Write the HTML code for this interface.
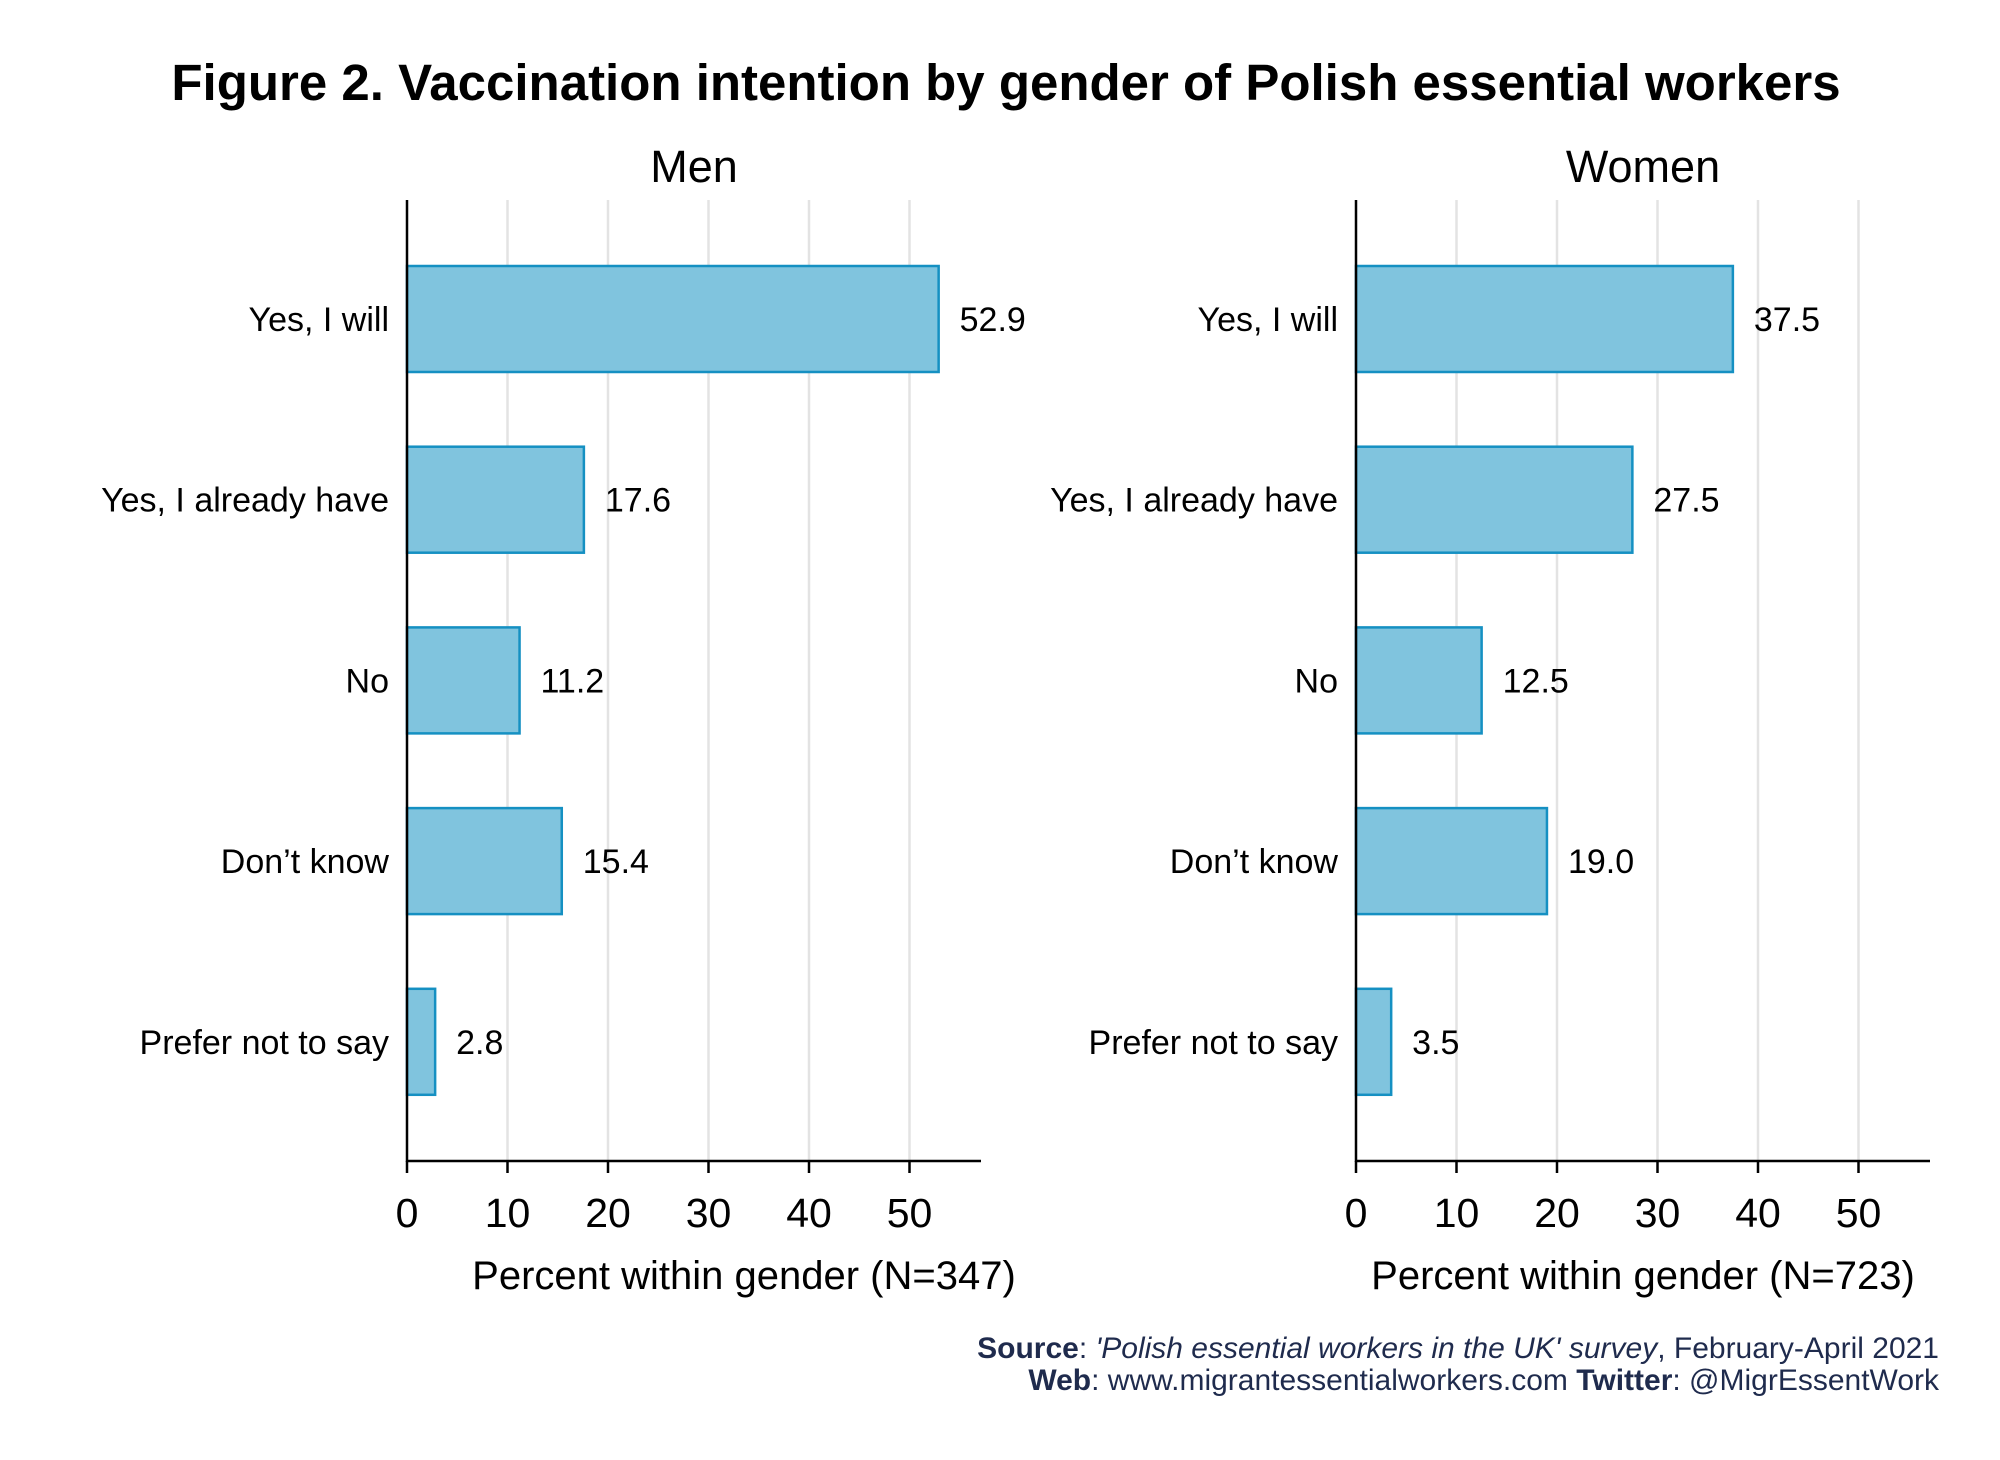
<!DOCTYPE html>
<html><head><meta charset="utf-8"><style>
html,body{margin:0;padding:0;background:#fff}
svg text{font-family:"Liberation Sans",Arial,sans-serif}
</style></head><body>
<svg id="chart" width="2000" height="1455" viewBox="0 0 2000 1455" xmlns="http://www.w3.org/2000/svg">
<rect width="2000" height="1455" fill="#fff"/>
<text x="1006" y="100" text-anchor="middle" font-size="51" font-weight="bold" fill="#000">Figure 2. Vaccination intention by gender of Polish essential workers</text>
<g id="panels"></g>
<g fill="#1f2b4d" font-size="30" text-anchor="end">
<text x="1939" y="1358"><tspan font-weight="bold">Source</tspan>: <tspan font-style="italic">'Polish essential workers in the UK' survey</tspan>, February-April 2021</text>
<text x="1939" y="1390"><tspan font-weight="bold">Web</tspan>: www.migrantessentialworkers.com  <tspan font-weight="bold">Twitter</tspan>: @MigrEssentWork</text>
</g>
</svg>
<script>
const categories = ["Yes, I will","Yes, I already have","No","Don\u2019t know","Prefer not to say"];
const menValues = [52.9,17.6,11.2,15.4,2.8];
const womenValues = [37.5,27.5,12.5,19.0,3.5];
const panelTitles = ["Men","Women"];
const axisTitles = ["Percent within gender (N=347)","Percent within gender (N=723)"];
const tickValues = [0,10,20,30,40,50];

const NS="http://www.w3.org/2000/svg";
const g=document.getElementById('panels');
function mk(tag,attrs,parent){const e=document.createElementNS(NS,tag);for(const k in attrs)e.setAttribute(k,attrs[k]);(parent||g).appendChild(e);return e;}
const unit=10.05, yTop=200, yAxis=1161, firstC=319, step=180.7, barH=106;
const panelX=[407,1356];
const titleOff=[287,287];
const axisTitleOff=[337,287];
const seriesList=[menValues,womenValues];
function yPos(i){return firstC+i*step;}
panelX.forEach((x0,p)=>{
  const xs=v=>x0+v*unit;
  const pg=mk('g',{});
  
  
  tickValues.forEach(t=>{ if(t>0){const gl=mk('line',{x1:xs(t),x2:xs(t),y1:yTop,y2:yAxis,stroke:'#e3e3e3','stroke-width':2.5},pg);
    
    }});
  const pt=mk('text',{x:x0+titleOff[p],y:182,'text-anchor':'middle','font-size':45,fill:'#000'},pg);
  pt.textContent=panelTitles[p];
  
  
  seriesList[p].forEach((v,i)=>{
    const r=mk('rect',{x:xs(0),y:yPos(i)-barH/2,width:xs(v)-xs(0),height:barH,fill:'#80c4de',stroke:'#1590c2','stroke-width':2.5},pg);
    
    
    const vl=mk('text',{x:xs(v)+21,y:yPos(i)+12,'font-size':34,fill:'#000'},pg);
    vl.textContent=v.toFixed(1);
    
    
    const cl=mk('text',{x:x0-18,y:yPos(i)+12,'text-anchor':'end','font-size':34,fill:'#000'},pg);
    cl.textContent=categories[i];
    
    
  });
  const ya=mk('line',{x1:x0,x2:x0,y1:yTop,y2:yAxis+1,stroke:'#000','stroke-width':2.5},pg);
  
  
  const xa=mk('line',{x1:x0-1,x2:x0+574,y1:yAxis,y2:yAxis,stroke:'#000','stroke-width':2.5},pg);
  
  
  tickValues.forEach(t=>{
    const tk=mk('line',{x1:xs(t),x2:xs(t),y1:yAxis,y2:yAxis+12,stroke:'#000','stroke-width':2.5},pg);
    
    
    const tl=mk('text',{x:xs(t),y:1227,'text-anchor':'middle','font-size':41,fill:'#000'},pg);
    tl.textContent=String(t);
    
    
  });
  const at=mk('text',{x:x0+axisTitleOff[p],y:1289,'text-anchor':'middle','font-size':40,fill:'#000'},pg);
  at.textContent=axisTitles[p];
  
  
});
</script>
</body></html>
